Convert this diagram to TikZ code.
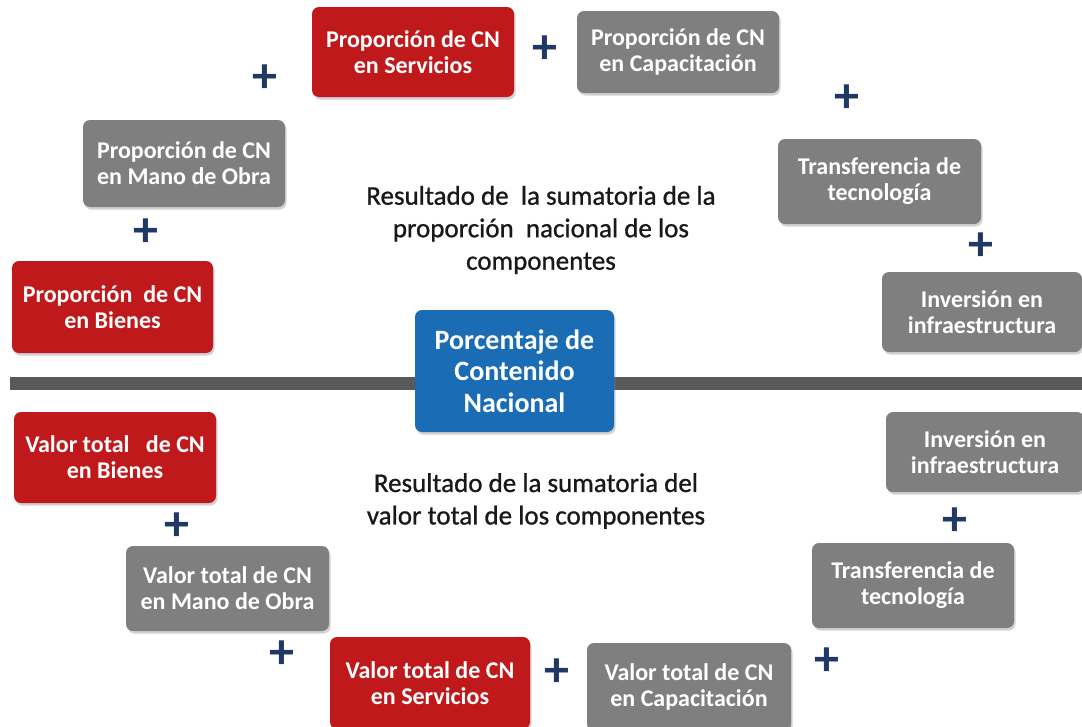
\documentclass[tikz,border=0pt]{standalone}
\usepackage{fontspec}
\setmainfont{Carlito}
\newfontfamily\captionfont[FakeBold=0.9]{Carlito}
\usetikzlibrary{shadows}
\definecolor{cnred}{HTML}{C0191C}
\definecolor{cngray}{HTML}{7F7F7F}
\definecolor{cnblue}{HTML}{1A6DB5}
\definecolor{cnnavy}{HTML}{1F3864}
\definecolor{cnbar}{HTML}{595959}
\tikzset{
  box/.style={rounded corners=7pt, text=white, align=center, inner sep=0pt,
    font=\bfseries\fontsize{24}{26}\selectfont,
    drop shadow={shadow xshift=1.5pt, shadow yshift=-2.5pt, opacity=0.35}},
  redbox/.style={box, fill=cnred},
  graybox/.style={box, fill=cngray},
  bluebox/.style={box, fill=cnblue, font=\bfseries\fontsize{28}{31.5}\selectfont},
  plussign/.style={text=cnnavy, font=\bfseries\fontsize{50}{50}\selectfont, inner sep=0pt},
  caption/.style={font=\captionfont\fontsize{27}{32.5}\selectfont, align=center, text=black!90, inner sep=0pt},
}
\begin{document}
\begin{tikzpicture}[x=1pt,y=-1pt]
\useasboundingbox (0,0) rectangle (1082,726);
\clip (0,0) rectangle (1082,726);
\fill[white] (0,0) rectangle (1082,726);
% separator bar
\coordinate (barL) at (10,383);
\coordinate (barR) at (1082,383);
\draw[cnbar, line width=13pt] (barL) -- (barR);
% upper half
\node[redbox, minimum width=202pt, minimum height=90pt] (sS) at (413,52) {Proporción de CN\\en Servicios};
\node[graybox, minimum width=202pt, minimum height=82pt] (sC) at (678,52) {Proporción de CN\\en Capacitación};
\node[graybox, minimum width=202pt, minimum height=87pt] (sM) at (184,163.5) {Proporción de CN\\en Mano de Obra};
\node[graybox, minimum width=203pt, minimum height=85pt] (sT) at (879.5,181.5) {Transferencia de\\tecnología};
\node[redbox, minimum width=201pt, minimum height=92pt] (sB) at (112.5,307) {Proporción~ de CN\\en Bienes};
\node[graybox, minimum width=200pt, minimum height=80pt] (sI) at (982,312) {Inversión en\\infraestructura};
\node[caption] (capTop) at (541,230) {Resultado de~ la sumatoria de la\\proporción~ nacional de los\\componentes};
% center
\node[bluebox, minimum width=199pt, minimum height=122pt] (pcn) at (514.5,371) {Porcentaje de\\Contenido\\Nacional};
% lower half
\node[redbox, minimum width=202pt, minimum height=91pt] (vB) at (115,457.5) {Valor total~~ de CN\\en Bienes};
\node[graybox, minimum width=203pt, minimum height=85pt] (vM) at (227.5,588.5) {Valor total de CN\\en Mano de Obra};
\node[redbox, minimum width=200pt, minimum height=92pt] (vS) at (430,683) {Valor total de CN\\en Servicios};
\node[graybox, minimum width=204pt, minimum height=88pt] (vC) at (689,687) {Valor total de CN\\en Capacitación};
\node[graybox, minimum width=202pt, minimum height=85pt] (vT) at (913,585.5) {Transferencia de\\tecnología};
\node[graybox, minimum width=198pt, minimum height=80pt] (vI) at (985,452) {Inversión en\\infraestructura};
\node[caption] (capBot) at (536,501) {Resultado de la sumatoria del\\valor total de los componentes};
% plus signs
\node[plussign] (p1) at (265,79) {+};
\node[plussign] (p2) at (545,50) {+};
\node[plussign] (p3) at (847,99) {+};
\node[plussign] (p4) at (146,233) {+};
\node[plussign] (p5) at (981,247) {+};
\node[plussign] (p6) at (177,527) {+};
\node[plussign] (p7) at (282,655) {+};
\node[plussign] (p8) at (557,673) {+};
\node[plussign] (p9) at (827,662) {+};
\node[plussign] (p10) at (955,522) {+};
\end{tikzpicture}
\end{document}
